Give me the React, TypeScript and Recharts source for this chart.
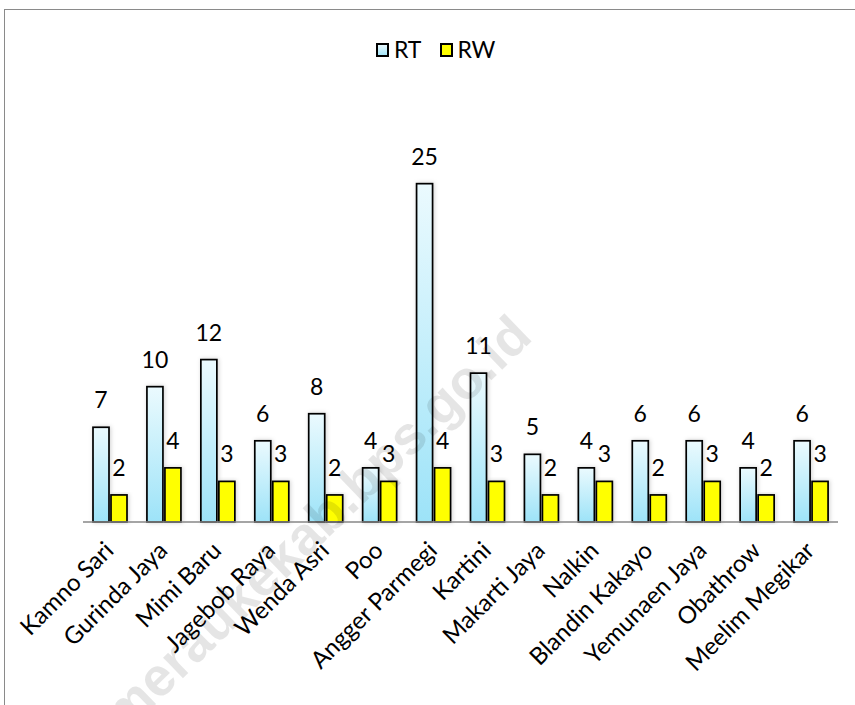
import React from 'react';
import { BarChart, Bar, XAxis, YAxis, LabelList } from 'recharts';

const categories = ['Kamno Sari', 'Gurinda Jaya', 'Mimi Baru', 'Jagebob Raya', 'Wenda Asri', 'Poo', 'Angger Parmegi', 'Kartini', 'Makarti Jaya', 'Nalkin', 'Blandin Kakayo', 'Yemunaen Jaya', 'Obathrow', 'Meelim Megikar'];
const rtValues = [7, 10, 12, 6, 8, 4, 25, 11, 5, 4, 6, 6, 4, 6];
const rwValues = [2, 4, 3, 3, 2, 3, 4, 3, 2, 3, 2, 3, 2, 3];
const seriesNames = ['RT', 'RW'];

const data = categories.map((name, i) => ({ name, RT: rtValues[i], RW: rwValues[i] }));

const FONT = 'Lato, "Open Sans", sans-serif';

const BarShape = (fill: string) => (props: any) => {
  const { x, y, width, height } = props;
  if (!height || height <= 0) return null;
  return (
    <rect x={x} y={y} width={width} height={height} fill={fill} stroke="#000" strokeWidth={1.7} filter="url(#barShadow)" />
  );
};

const ValueLabel = (props: any) => {
  const { x, y, width, value } = props;
  return (
    <text x={x + width / 2} y={y - 19} textAnchor="middle" fontFamily={FONT} fontSize={23} fill="#000">
      {value}
    </text>
  );
};

const CategoryTick = (props: any) => {
  const { x, y, payload } = props;
  const tx = x + 5;
  const ty = y + 30;
  return (
    <text x={tx} y={ty} textAnchor="end" fontFamily={FONT} fontSize={24} fill="#000" transform={`rotate(-45, ${tx}, ${ty})`}>
      {payload.value}
    </text>
  );
};

const LegendBox = () => (
  <div style={{ position: 'absolute', left: 376, top: 38, display: 'flex', alignItems: 'center', fontFamily: FONT, fontSize: 23, color: '#000', lineHeight: '23px' }}>
    <span style={{ display: 'inline-block', width: 9, height: 10, border: '2px solid #000', background: 'linear-gradient(#e8f9fe, #a6e6f9)' }} />
    <span style={{ marginLeft: 5 }}>{seriesNames[0]}</span>
    <span style={{ display: 'inline-block', width: 9, height: 10, border: '2px solid #000', background: '#ffff00', marginLeft: 19 }} />
    <span style={{ marginLeft: 4 }}>{seriesNames[1]}</span>
  </div>
);

export default function App() {
  return (
    <div style={{ position: 'absolute', left: 0, top: 0, width: 855, height: 705, overflow: 'hidden', background: '#fff' }}>
      <div style={{ position: 'absolute', left: 4, top: 9, width: 900, height: 800, borderTop: '1.5px solid #8a8a8a', borderLeft: '1.5px solid #8a8a8a' }} />
      <BarChart
        width={855}
        height={705}
        data={data}
        margin={{ top: 116, right: 17, bottom: 0, left: 83 }}
        barSize={16}
        barGap={2}
        style={{ position: 'absolute', left: 0, top: 0 }}
      >
        <defs>
          <linearGradient id="rtGrad" x1="0" y1="0" x2="0" y2="1">
            <stop offset="0%" stopColor="#ebfafe" />
            <stop offset="100%" stopColor="#9de3f8" />
          </linearGradient>
          <filter id="barShadow" x="-50%" y="-10%" width="200%" height="120%">
            <feDropShadow dx="1" dy="0" stdDeviation="2" floodColor="#000" floodOpacity="0.18" />
          </filter>
        </defs>
        <XAxis
          dataKey="name"
          interval={0}
          height={183}
          tickLine={false}
          tickSize={0}
          tickMargin={0}
          axisLine={{ stroke: '#878787', strokeWidth: 1.5 }}
          tick={<CategoryTick />}
        />
        <YAxis hide domain={[0, 30]} />
        <Bar dataKey="RT" name={seriesNames[0]} fill="url(#rtGrad)" shape={BarShape('url(#rtGrad)')} isAnimationActive={false}>
          <LabelList dataKey="RT" content={<ValueLabel />} />
        </Bar>
        <Bar dataKey="RW" name={seriesNames[1]} fill="#ffff00" shape={BarShape('#ffff00')} isAnimationActive={false}>
          <LabelList dataKey="RW" content={<ValueLabel />} />
        </Bar>
      </BarChart>
      <LegendBox />
      <svg width={855} height={705} style={{ position: 'absolute', left: 0, top: 0, pointerEvents: 'none' }}>
        <text
          x={124}
          y={735}
          textAnchor="start"
          fontFamily='"Liberation Sans", Arial, sans-serif'
          fontWeight="bold"
          fontSize={54}
          fill="#000"
          fillOpacity={0.1}
          transform="rotate(-44, 124, 735)"
        >
          meraukekab.bps.go.id
        </text>
      </svg>
    </div>
  );
}
